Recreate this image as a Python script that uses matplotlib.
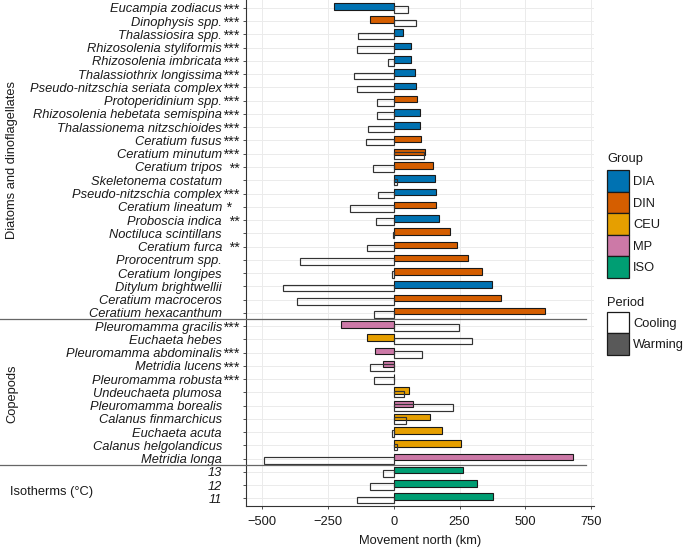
import matplotlib
matplotlib.use("Agg")
import matplotlib.pyplot as plt
import matplotlib.transforms as mtransforms
from matplotlib.patches import Rectangle
from matplotlib.lines import Line2D
import numpy as np

plt.rcParams['font.family'] = ['Liberation Sans', 'DejaVu Sans']

# ---------------- data ----------------
names = ["Eucampia zodiacus", "Dinophysis spp.", "Thalassiosira spp.", "Rhizosolenia styliformis",
         "Rhizosolenia imbricata", "Thalassiothrix longissima", "Pseudo-nitzschia seriata complex",
         "Protoperidinium spp.", "Rhizosolenia hebetata semispina", "Thalassionema nitzschioides",
         "Ceratium fusus", "Ceratium minutum", "Ceratium tripos", "Skeletonema costatum",
         "Pseudo-nitzschia complex", "Ceratium lineatum", "Proboscia indica", "Noctiluca scintillans",
         "Ceratium furca", "Prorocentrum spp.", "Ceratium longipes", "Ditylum brightwellii",
         "Ceratium macroceros", "Ceratium hexacanthum",
         "Pleuromamma gracilis", "Euchaeta hebes", "Pleuromamma abdominalis", "Metridia lucens",
         "Pleuromamma robusta", "Undeuchaeta plumosa", "Pleuromamma borealis", "Calanus finmarchicus",
         "Euchaeta acuta", "Calanus helgolandicus", "Metridia longa",
         "13", "12", "11"]
stars = ["***", "***", "***", "***", "***", "***", "***", "***", "***", "***",
         "***", "***", "**", "", "***", "*", "**", "", "**", "", "", "", "", "",
         "***", "", "***", "***", "***", "", "", "", "", "", "",
         "", "", ""]
groups = ["DIA", "DIN", "DIA", "DIA", "DIA", "DIA", "DIA", "DIN", "DIA", "DIA",
          "DIN", "DIN", "DIN", "DIA", "DIA", "DIN", "DIA", "DIN", "DIN", "DIN",
          "DIN", "DIA", "DIN", "DIN",
          "MP", "CEU", "MP", "MP", "MP", "CEU", "MP", "CEU", "CEU", "CEU", "MP",
          "ISO", "ISO", "ISO"]
warming = [-225, -90, 34, 66, 66, 80, 83, 88, 99, 101,
           104, 120, 148, 158, 161, 162, 171, 212, 239, 282,
           336, 373, 407, 573,
           -198, -101, -71, -39, 3, 58, 72, 138, 182, 255, 680,
           262, 315, 378]
cooling = [56, 83, -137, -139, -23, -149, -138, -62, -63, -99,
           -106, 116, -77, 11, -58, -167, -67, -4, -102, -354,
           -5, -421, -365, -76,
           249, 297, 106, -88, -73, 38, 224, 46, -5, 13, -493,
           -39, -88, -138]
group_order = ["DIA", "DIN", "CEU", "MP", "ISO"]
group_colors = {"DIA": "#0072B2", "DIN": "#D55E00", "CEU": "#E69F00", "MP": "#CC79A7", "ISO": "#009E73"}
periods = ["Cooling", "Warming"]
period_fills = {"Cooling": "white", "Warming": "#595959"}
xticks = [-500, -250, 0, 250, 500, 750]
section_labels = ["Diatoms and dinoflagellates", "Copepods", "Isotherms (°C)"]

# ---------------- figure ----------------
W, H = 685, 547
fig = plt.figure(figsize=(W / 100, H / 100), dpi=100)
ax = fig.add_axes([246 / W, 1 - 506.3 / H, (594 - 246) / W, 506.3 / H])

FS = 9.3
TXT = "#1a1a1a"
EDGE = "#1a1a1a"

y = np.arange(1, len(names) + 1)
ax.set_ylim(len(names) + 0.6, 0.4)
ax.set_xlim(-560, 760)

ax.set_axisbelow(True)
ax.grid(True, color="#ebebeb", linewidth=0.7)

ax.barh(y - 0.125, warming, height=0.5, color=[group_colors[g] for g in groups],
        edgecolor=EDGE, linewidth=0.8, zorder=2)
ax.barh(y + 0.125, cooling, height=0.5, fill=False,
        edgecolor="#333333", linewidth=0.85, zorder=3)

ax.set_yticks(y)
ax.set_yticklabels(names, fontstyle="italic", fontsize=FS, color=TXT)
ax.tick_params(axis="y", length=2.5, width=0.6, color="#333333", pad=14.8)
ax.set_xticks(xticks)
ax.tick_params(axis="x", length=2.5, width=0.6, color="#333333", pad=4.2, labelsize=FS, labelcolor=TXT)
ax.set_xlabel("Movement north (km)", fontsize=FS, color=TXT, labelpad=5.5)

for s in ["top", "right"]:
    ax.spines[s].set_visible(False)
for s in ["left", "bottom"]:
    ax.spines[s].set_color("#333333")
    ax.spines[s].set_linewidth(0.8)

# significance stars
for yi, st in zip(y, stars):
    if st:
        off = -6.5 if len(st) > 1 else -15.5
        tr = mtransforms.offset_copy(ax.get_yaxis_transform(), fig=fig, x=off * 0.72, y=0, units="points")
        ax.text(0, yi, st, transform=tr, ha="right", va="center_baseline",
                fontsize=10.4, fontstyle="italic", color=TXT, clip_on=False)

# section separators
for sep in [24.5, 35.5]:
    ypix = ax.transData.transform((0, sep))[1]
    fig.add_artist(Line2D([0, 586 / W], [ypix / H, ypix / H], transform=fig.transFigure,
                          color="#666666", linewidth=0.9))

# section labels
fig.text(12 / W, 1 - 160 / H, section_labels[0], rotation=90, ha="center", va="center",
         fontsize=FS, color=TXT)
fig.text(12 / W, 1 - 394 / H, section_labels[1], rotation=90, ha="center", va="center",
         fontsize=FS, color=TXT)
fig.text(10 / W, 1 - 492 / H, section_labels[2], ha="left", va="center",
         fontsize=FS, color=TXT)

# legends (drawn in figure pixel coordinates)
KEY = 21.5
LX = 607


def legend_block(title, title_base, top, labels, fills):
    fig.text(LX / W, 1 - title_base / H, title, ha="left", va="baseline", fontsize=FS, color=TXT)
    for i, (lab, fc) in enumerate(zip(labels, fills)):
        y0 = top + i * KEY
        fig.add_artist(Rectangle((LX / W, 1 - (y0 + KEY) / H), KEY / W, KEY / H,
                                 transform=fig.transFigure, facecolor=fc, edgecolor=EDGE,
                                 linewidth=0.9))
        fig.text(633 / W, 1 - (y0 + KEY / 2 + 4.6) / H, lab, ha="left", va="baseline",
                 fontsize=FS, color=TXT)


legend_block("Group", 162.5, 170, group_order, [group_colors[g] for g in group_order])
legend_block("Period", 305.5, 311.5, periods, [period_fills[p] for p in periods])

fig.savefig("out.png", dpi=100)
